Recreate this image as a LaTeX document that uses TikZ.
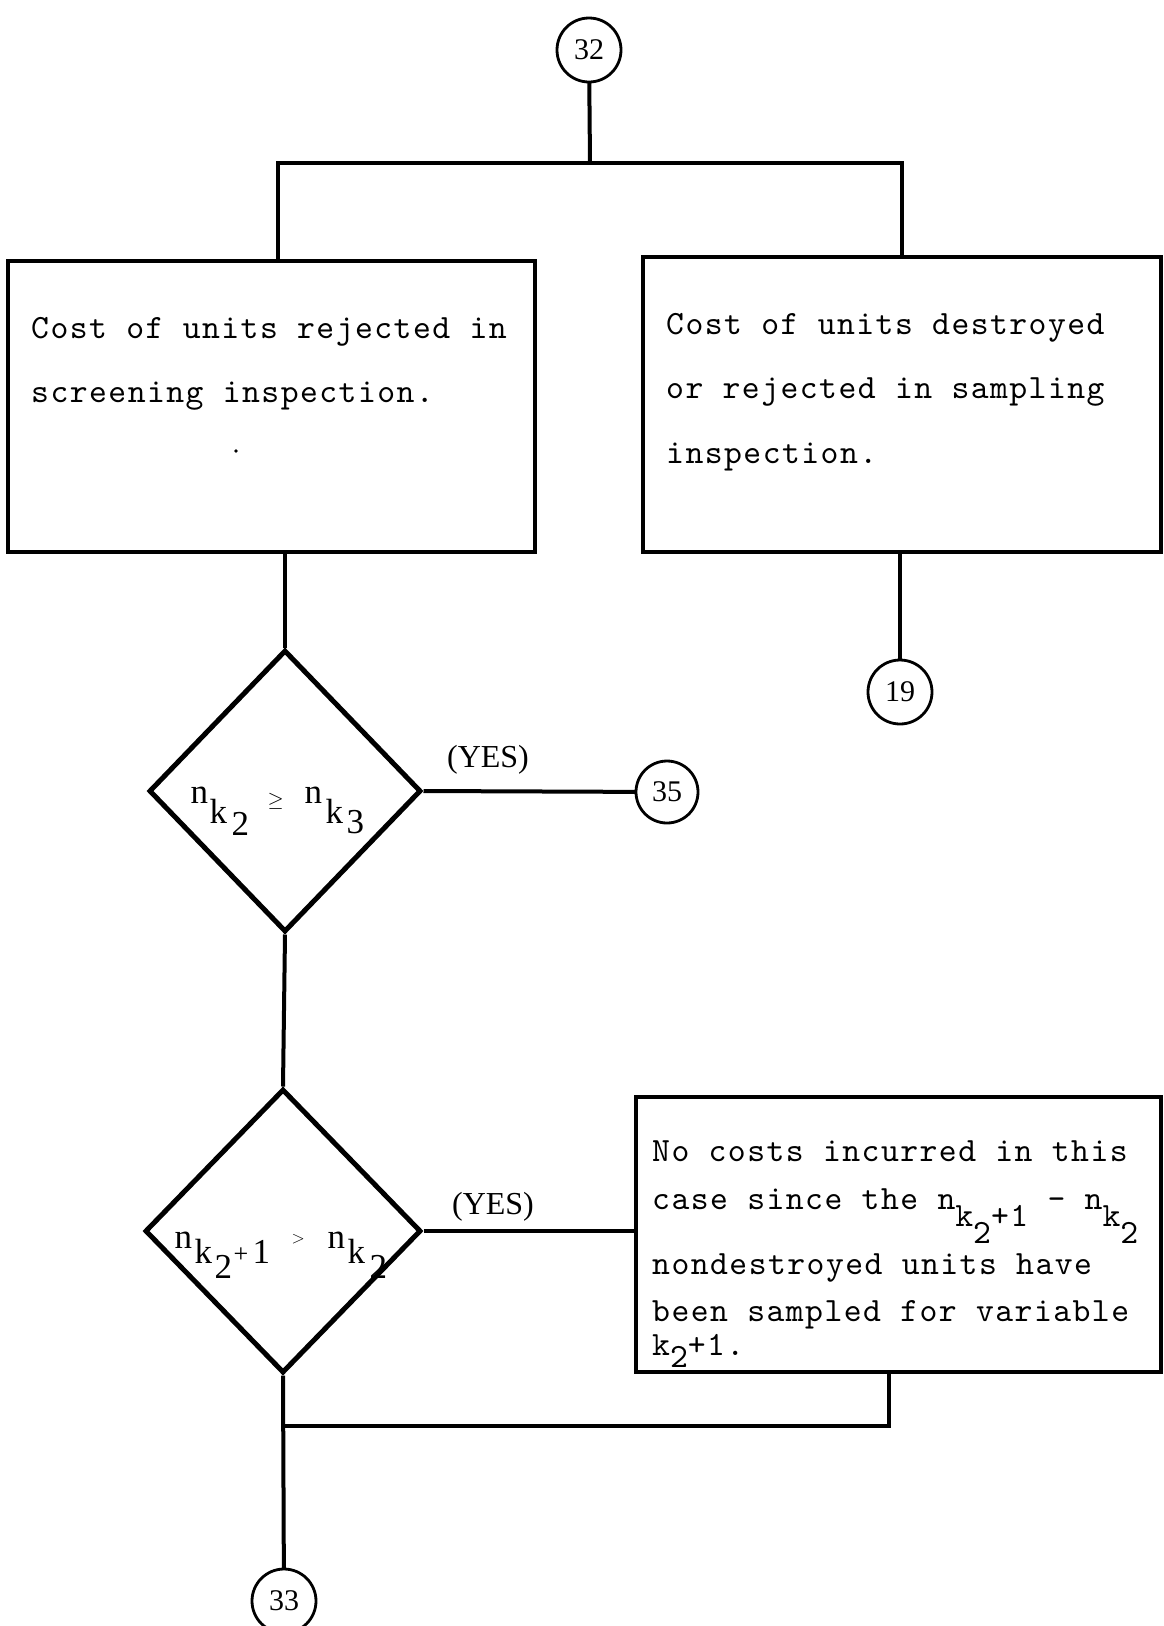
\documentclass[tikz,border=0pt]{standalone}
\usepackage{fontspec}
\usetikzlibrary{shapes.geometric}

% letter-spaced typewriter face for the box texts
\newfontfamily\twfont[LetterSpace=4.3]{lmmono10-regular.otf}
\newfontfamily\labfont{Liberation Serif}

% one glyph placed at an offset (pt) from the label origin
\newcommand\gl[3]{\rlap{\hspace{#1pt}\raisebox{#2pt}{#3}}}
% typewriter subscript drop
\newcommand\dn[1]{\raisebox{-17pt}{#1}}

\tikzset{
  box/.style={draw, rectangle, line width=4.5pt, inner sep=0pt},
  dia/.style={draw, diamond, line width=5pt, inner sep=0pt},
  conn/.style={draw, circle, line width=2.8pt, inner sep=0pt, minimum size=64pt,
               font=\fontsize{30}{36}\labfont},
  flow/.style={line width=4pt},
  tw/.style={font=\fontsize{34}{40}\twfont, anchor=base west, inner sep=0pt},
  lbl/.style={font=\fontsize{35}{40}\labfont, anchor=base west, inner sep=0pt},
  yes/.style={font=\fontsize{32}{38}\labfont, inner sep=0pt}
}

\begin{document}
\begin{tikzpicture}[x=1pt, y=-1pt]
  \fill[white] (0,0) rectangle (1164,1626);
  \useasboundingbox (0,0) rectangle (1164,1626);

  % process boxes
  \node[box, minimum width=527pt, minimum height=291pt] (lbox) at (271.5,406.5) {};
  \node[box, minimum width=518pt, minimum height=295pt] (rbox) at (902,404.5) {};
  \node[box, minimum width=525pt, minimum height=275pt] (bbox) at (898.5,1234.5) {};

  % decisions
  \node[dia, minimum width=272pt, minimum height=282pt] (dia1) at (285,791) {};
  \node[dia, minimum width=276pt, minimum height=284pt] (dia2) at (283,1231) {};

  % connector circle positions
  \coordinate (p32) at (589,50);
  \coordinate (p19) at (900,692);
  \coordinate (p35) at (667,792);
  \coordinate (p33) at (284,1601);

  % connectors
  \coordinate (bar) at (590,163);
  \coordinate (jr) at (889,1426);
  \draw[flow] (p32) -- (bar);
  \draw[flow] ([xshift=6.5pt]lbox.north) -- ([xshift=6.5pt]lbox.north |- bar)
              -- (rbox.north |- bar) -- (rbox.north);
  \draw[flow] (dia1.north) -- (dia1.north |- lbox.south);
  \draw[flow] (p19) -- (p19 |- rbox.south);
  \draw[flow] (dia1.east) -- (p35);
  \draw[flow] (dia1.south) -- (dia2.north);
  \draw[flow] (dia2.east) -- (dia2.east -| bbox.west);
  \draw[flow] (jr |- bbox.south) -- (jr) -- (jr -| dia2.south);
  \draw[flow] (dia2.south) -- (p33);

  \node[conn, fill=white] (c32) at (p32) {32};
  \node[conn, fill=white] (c19) at (p19) {19};
  \node[conn, fill=white, minimum size=62pt] (c35) at (p35) {35};
  \node[conn, fill=white] (c33) at (p33) {33};

  % box texts
  \node[tw] (l1) at (31,338) {Cost of units rejected in};
  \node[tw] (l2) at (31,402) {screening inspection.};
  \fill (236,451) circle (1.8pt);

  \node[tw] (r1) at (666,334) {Cost of units destroyed};
  \node[tw] (r2) at (666,398) {or rejected in sampling};
  \node[tw] (r3) at (666,463) {inspection.};

  \node[tw] (b1) at (652,1161) {No costs incurred in this};
  \node[tw] (b2) at (652,1209) {case since the n\dn{k\dn{2}+1} - n\dn{k\dn{2}}};
  \node[tw] (b3) at (652,1274) {nondestroyed units have};
  \node[tw] (b4) at (652,1321) {been sampled for variable};
  \node[tw] (b5) at (652,1355) {k\raisebox{-12pt}{2}+1.};

  % decision texts
  \node[lbl] (q1) at (190,803) {%
    \gl{0}{0}{n}\gl{19}{-20}{k}\gl{41}{-32}{2}%
    \gl{77}{-3}{\fontsize{22}{22}\selectfont$\geq$}%
    \gl{114}{0}{n}\gl{135}{-20}{k}\gl{156}{-30}{3}};
  \node[lbl] (q2) at (174,1248) {%
    \gl{0}{0}{n}\gl{20}{-15}{k}\gl{40}{-30}{2}%
    \gl{59}{-14}{\fontsize{26}{26}\selectfont +}\gl{78}{-15}{1}%
    \gl{117}{5}{\fontsize{18}{18}\selectfont$>$}%
    \gl{153}{0}{n}\gl{173}{-15}{k}\gl{195}{-30}{2}};

  \node[yes] (y1) at (488,760) {(YES)};
  \node[yes] (y2) at (493,1207) {(YES)};
\end{tikzpicture}
\end{document}
